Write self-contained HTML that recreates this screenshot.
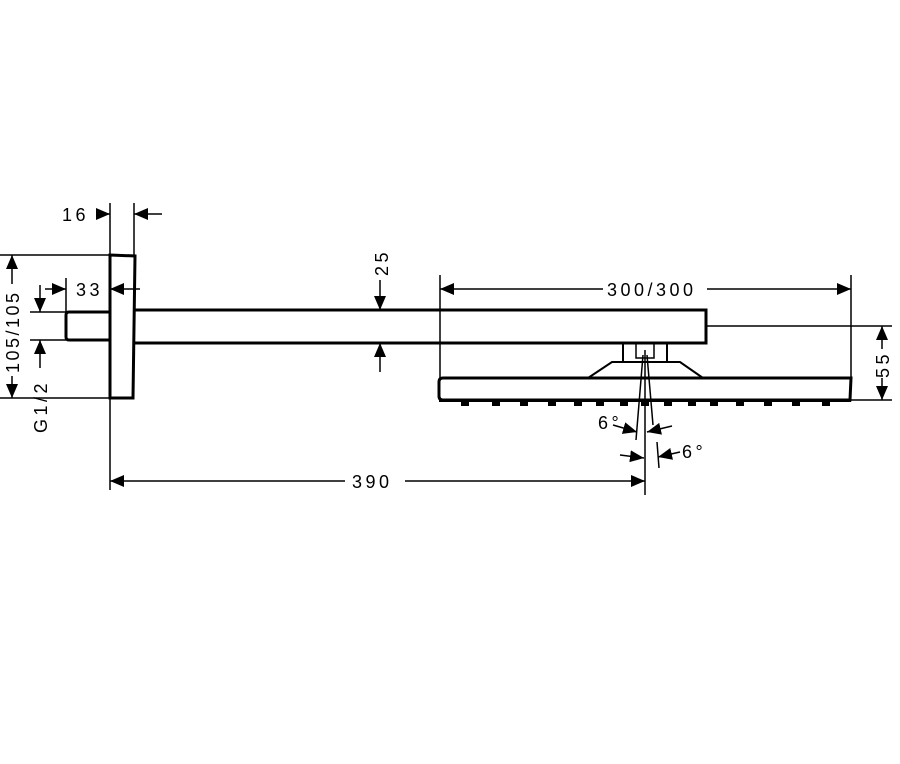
<!DOCTYPE html>
<html><head><style>html,body{margin:0;padding:0;background:#fff}svg{display:block}text{font-family:"Liberation Sans",sans-serif;font-size:18px;fill:#000;letter-spacing:3.5px}</style></head>
<body>
<svg width="900" height="764" viewBox="0 0 900 764" xmlns="http://www.w3.org/2000/svg">
<defs><marker id="a" markerWidth="14" markerHeight="12" refX="14" refY="6" orient="auto" markerUnits="userSpaceOnUse"><path d="M0,0 L14,6 L0,12 z" fill="#000"/></marker></defs>
<g stroke="#000" fill="none">
<path d="M110,255 L135,256 L133,398 L110,398 Z" stroke-width="3"/>
<path d="M110,312 L69,312 Q66,312 66,315 L66,337 Q66,340 69,340 L110,340" stroke-width="3"/>
<path d="M134,310 L706,310 L706,343 L134,343" stroke-width="3"/>
<rect x="623" y="343" width="44" height="19" stroke-width="2"/>
<rect x="636" y="343" width="18" height="15" stroke-width="1.5"/>
<path d="M588,378 L612,362 L680,362 L703,378" stroke-width="2"/>
<path d="M443,378 L851,378 L850,400 L443,400 Q439,400 439,396 L439,382 Q439,378 443,378 Z" stroke-width="3"/>
<g stroke-width="1.5">
<line x1="110" y1="203" x2="110" y2="490"/>
<line x1="134" y1="203" x2="134" y2="255"/>
<line x1="0" y1="255" x2="110" y2="255"/>
<line x1="0" y1="398" x2="110" y2="398"/>
<line x1="30" y1="312" x2="66" y2="312"/>
<line x1="30" y1="340" x2="66" y2="340"/>
<line x1="66" y1="278" x2="66" y2="312"/>
<line x1="440" y1="275" x2="440" y2="378"/>
<line x1="851" y1="275" x2="851" y2="378"/>
<line x1="706" y1="326" x2="892" y2="326"/>
<line x1="851" y1="400" x2="892" y2="400"/>
<line x1="645" y1="350" x2="645" y2="495"/>
<line x1="643" y1="355" x2="636" y2="440"/>
<line x1="647" y1="355" x2="653" y2="425"/>
<line x1="657" y1="442" x2="659" y2="468"/>
</g>
<g stroke-width="1.5" marker-end="url(#a)">
<line x1="96" y1="214" x2="110" y2="214"/>
<line x1="162" y1="214" x2="134" y2="214"/>
<line x1="12" y1="284" x2="12" y2="255"/>
<line x1="12" y1="376" x2="12" y2="398"/>
<line x1="40" y1="285" x2="40" y2="312"/>
<line x1="40" y1="368" x2="40" y2="340"/>
<line x1="45" y1="289" x2="66" y2="289"/>
<line x1="140" y1="289" x2="110" y2="289"/>
<line x1="380" y1="280" x2="380" y2="310"/>
<line x1="380" y1="372" x2="380" y2="343"/>
<line x1="603" y1="289" x2="440" y2="289"/>
<line x1="707" y1="289" x2="851" y2="289"/>
<line x1="882" y1="349" x2="882" y2="326"/>
<line x1="882" y1="378" x2="882" y2="400"/>
<line x1="345" y1="481" x2="110" y2="481"/>
<line x1="405" y1="481" x2="645" y2="481"/>
<line x1="613" y1="425" x2="637" y2="432"/>
<line x1="672" y1="426" x2="647" y2="432"/>
<line x1="620" y1="455" x2="644" y2="458"/>
<line x1="680" y1="452" x2="658" y2="457"/>
</g>
</g>
<g fill="#000">
<rect x="439" y="400" width="412" height="2"/>
<rect x="461" y="401" width="8" height="5"/><rect x="492" y="401" width="8" height="5"/><rect x="520" y="401" width="8" height="5"/><rect x="548" y="401" width="8" height="5"/><rect x="574" y="401" width="8" height="5"/><rect x="596" y="401" width="8" height="5"/><rect x="620" y="401" width="8" height="5"/><rect x="641" y="401" width="8" height="5"/><rect x="664" y="401" width="8" height="5"/><rect x="688" y="401" width="8" height="5"/><rect x="710" y="401" width="8" height="5"/><rect x="736" y="401" width="8" height="5"/><rect x="764" y="401" width="8" height="5"/><rect x="792" y="401" width="8" height="5"/><rect x="822" y="401" width="8" height="5"/>
</g>
<text x="62" y="221">16</text>
<text x="76" y="296">33</text>
<text x="607" y="296">300/300</text>
<text x="352" y="488">390</text>
<text x="598" y="429">6°</text>
<text x="682" y="458">6°</text>
<text transform="translate(388,276) rotate(-90)">25</text>
<text transform="translate(19,373) rotate(-90)" style="letter-spacing:2.5px">105/105</text>
<text transform="translate(47,433) rotate(-90)">G1/2</text>
<text transform="translate(889,378) rotate(-90)">55</text>
</svg>
</body></html>
